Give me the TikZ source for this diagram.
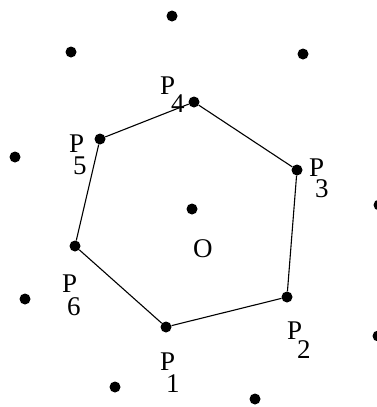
\documentclass[tikz,border=0pt]{standalone}
\usepackage{fontspec}
\setmainfont{Liberation Serif}
\newcommand\lowsub[3]{\kern#1pt\raisebox{-#2pt}{#3}}
\tikzset{
  dot/.style={circle,fill=black,inner sep=0pt,minimum size=11pt},
  lbl/.style={inner sep=0pt,anchor=base west,font=\fontsize{27}{27}\selectfont},
}
\begin{document}
\begin{tikzpicture}[x=1pt,y=-1pt]
\useasboundingbox (0,0) rectangle (377,407);
% hexagon vertices and centre
\node[dot] (P1) at (166,327) {};
\node[dot] (P2) at (287,297) {};
\node[dot] (P3) at (297,170) {};
\node[dot] (P4) at (194,102) {};
\node[dot] (P5) at (100,139) {};
\node[dot] (P6) at (75,246) {};
\node[dot] (O) at (192,209) {};
\draw[line width=1.1pt] (P1)--(P2)--(P3)--(P4)--(P5)--(P6)--(P1);
% other points
\foreach \x/\y in {172/16,71/52,303/54,15/157,379/205,25/299,378/336,115/387,255/399} {
  \fill (\x,\y) circle (5.5);
}
\node[lbl] (L1) at (160,370) {P\lowsub{-9}{22}{1}};
\node[lbl] (L2) at (287,339) {P\lowsub{-5}{19}{2}};
\node[lbl] (L3) at (309,176) {P\lowsub{-9}{21}{3}};
\node[lbl] (L4) at (160,94) {P\lowsub{-4}{18}{4}};
\node[lbl] (L5) at (69,152) {P\lowsub{-11}{22}{5}};
\node[lbl] (L6) at (62,292) {P\lowsub{-10}{23}{6}};
\node[lbl] (LO) at (193,257) {O};
\end{tikzpicture}
\end{document}
